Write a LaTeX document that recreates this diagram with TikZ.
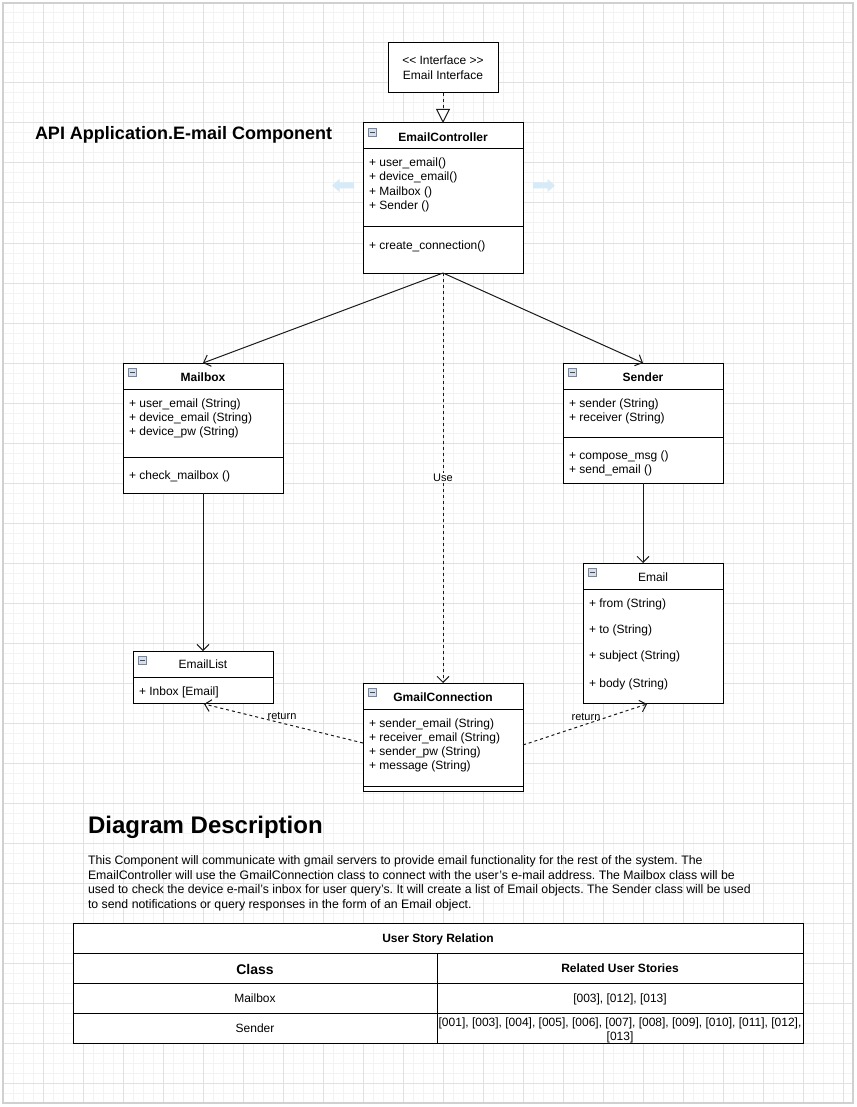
\documentclass[tikz,border=0pt]{standalone}
\usepackage{fontspec}
\setmainfont{Liberation Sans}
\usetikzlibrary{arrows.meta}
\definecolor{gridmin}{HTML}{F3F3F3}
\definecolor{gridmaj}{HTML}{E1E1E1}
\definecolor{pageb}{HTML}{D0D0D0}
\definecolor{hoverblue}{HTML}{D6EAF8}
\definecolor{iconfill}{HTML}{D8DEE8}
\definecolor{iconline}{HTML}{6F86A6}
\definecolor{linkc}{HTML}{1A1A1A}
\frenchspacing
\begin{document}
\begin{tikzpicture}[x=1pt,y=-1pt,
  every node/.style={inner sep=0pt,outer sep=0pt},
  box/.style={draw=black,line width=1pt,fill=white,anchor=north west},
  f12/.style={font=\fontsize{12}{14}\selectfont},
  f11/.style={font=\fontsize{11}{13}\selectfont},
  hdr/.style={font=\fontsize{12}{14}\selectfont\bfseries,anchor=base},
  hdrn/.style={f12,anchor=base},
  attr/.style={f12,anchor=base west},
  desc/.style={font=\fontsize{12.3}{14}\selectfont,anchor=base west},
  cell/.style={f12,anchor=base},
  sep/.style={draw=black,line width=1pt},
  icon/.style={draw=iconline,fill=iconfill,line width=0.6pt,minimum size=8pt,
    path picture={\draw[black!70,line width=0.9pt]
      ([xshift=1.8pt]path picture bounding box.west) -- ([xshift=-1.8pt]path picture bounding box.east);}},
  conn/.style={draw=linkc,line width=1pt,-{Straight Barb[length=6pt,width=12pt,line width=1pt]}},
  dconn/.style={conn,dash pattern=on 3pt off 3pt},
  realize/.style={draw=linkc,line width=1pt,dash pattern=on 3pt off 3pt,
    -{Triangle[open,fill=white,length=14pt,width=14pt,line width=1pt]}},
]
\useasboundingbox (0,0) rectangle (856,1107);
\fill[white] (0,0) rectangle (856,1107);
% grid
\begin{scope}
\clip (3,3) rectangle (853,1103);
\foreach \x in {13,23,...,853} \draw[gridmin,line width=1pt] (\x,3) -- (\x,1103);
\foreach \y in {13,23,...,1103} \draw[gridmin,line width=1pt] (3,\y) -- (853,\y);
\foreach \x in {3,43,...,853} \draw[gridmaj,line width=1pt] (\x,3) -- (\x,1103);
\foreach \y in {3,43,...,1103} \draw[gridmaj,line width=1pt] (3,\y) -- (853,\y);
\end{scope}
\draw[pageb,line width=1.2pt] (3,3) rectangle (853,1103);

% title
\node[font=\fontsize{18}{22}\selectfont\bfseries,anchor=base west] (title) at (35,139.5) {API Application.E-mail Component};

% hover arrows
\fill[hoverblue] (332,185.5) -- (339.5,179) -- (339.5,182.5) -- (354,182.5) -- (354,188.5) -- (339.5,188.5) -- (339.5,192) -- cycle;
\fill[hoverblue] (555,185.5) -- (547.5,179) -- (547.5,182.5) -- (533,182.5) -- (533,188.5) -- (547.5,188.5) -- (547.5,192) -- cycle;

% interface
\node[box,minimum width=110pt,minimum height=50pt] (ifc) at (388,43) {};
\node[hdrn] (ifc1) at (443,65) {{<}{<} Interface {>}{>}};
\node[hdrn] (ifc2) at (443,80) {Email Interface};

% EmailController
\node[box,minimum width=160pt,minimum height=150pt] (ec) at (363,123) {};
\node[icon] (eci) at (372.5,132.5) {};
\node[hdr] (ect) at (443,141.5) {EmailController};
\draw[sep] (363,149) -- (523,149);
\draw[sep] (363,227) -- (523,227);
\node[attr] (ec1) at (369,166.5) {+ user\_email()};
\node[attr] (ec2) at (369,180.8) {+ device\_email()};
\node[attr] (ec3) at (369,195.1) {+ Mailbox ()};
\node[attr] (ec4) at (369,209.4) {+ Sender ()};
\node[attr] (ec5) at (369,249.5) {+ create\_connection()};

% Mailbox
\node[box,minimum width=160pt,minimum height=130pt] (mb) at (123,363) {};
\node[icon] (mbi) at (132.5,372.5) {};
\node[hdr] (mbt) at (203,381.5) {Mailbox};
\draw[sep] (123,389) -- (283,389);
\draw[sep] (123,457) -- (283,457);
\node[attr] (mb1) at (129,407) {+ user\_email (String)};
\node[attr] (mb2) at (129,421) {+ device\_email (String)};
\node[attr] (mb3) at (129,435) {+ device\_pw (String)};
\node[attr] (mb4) at (129,479) {+ check\_mailbox ()};

% Sender
\node[box,minimum width=160pt,minimum height=120pt] (sd) at (563,363) {};
\node[icon] (sdi) at (572.5,372.5) {};
\node[hdr] (sdt) at (643,381.5) {Sender};
\draw[sep] (563,389) -- (723,389);
\draw[sep] (563,437) -- (723,437);
\node[attr] (sd1) at (569,407) {+ sender (String)};
\node[attr] (sd2) at (569,421) {+ receiver (String)};
\node[attr] (sd3) at (569,459) {+ compose\_msg ()};
\node[attr] (sd4) at (569,473) {+ send\_email ()};

% Email
\node[box,minimum width=140pt,minimum height=140pt] (em) at (583,563) {};
\node[icon] (emi) at (592.5,572.5) {};
\node[hdrn] (emt) at (653,581) {Email};
\draw[sep] (583,589) -- (723,589);
\node[attr] (em1) at (589,607) {+ from (String)};
\node[attr] (em2) at (589,633) {+ to (String)};
\node[attr] (em3) at (589,659) {+ subject (String)};
\node[attr] (em4) at (589,687) {+ body (String)};

% EmailList
\node[box,minimum width=140pt,minimum height=52pt] (el) at (133,651) {};
\node[icon] (eli) at (142.5,660.5) {};
\node[hdrn] (elt) at (203,668) {EmailList};
\draw[sep] (133,677) -- (273,677);
\node[attr] (el1) at (139,695) {+ Inbox [Email]};

% GmailConnection
\node[box,minimum width=160pt,minimum height=108pt] (gc) at (363,683) {};
\node[icon] (gci) at (372.5,692.5) {};
\node[hdr] (gct) at (443,701) {GmailConnection};
\draw[sep] (363,709) -- (523,709);
\draw[sep] (363,786.5) -- (523,786.5);
\node[attr] (gc1) at (369,727) {+ sender\_email (String)};
\node[attr] (gc2) at (369,741) {+ receiver\_email (String)};
\node[attr] (gc3) at (369,755) {+ sender\_pw (String)};
\node[attr] (gc4) at (369,769) {+ message (String)};

% connectors
\coordinate (emtop) at (643,563);
\coordinate (gcl) at (363,743);
\coordinate (gcr) at (523,745);
\coordinate (elb) at (204,704);
\coordinate (emb) at (647,704);
\draw[realize] (ifc.south) -- (ec.north);
\draw[conn] (ec.south) -- (mb.north);
\draw[conn] (ec.south) -- (sd.north);
\draw[dconn] (ec.south) -- node[f11,fill=white,inner sep=1pt] (use) {Use} (gc.north);
\draw[conn] (mb.south) -- (el.north);
\draw[conn] (sd.south) -- (emtop);
\draw[dconn] (gcl) -- (elb);
\draw[dconn] (gcr) -- (emb);
\node[f11] (ret1) at (282,716) {return};
\node[f11] (ret2) at (586,717) {return};

% description
\node[font=\fontsize{24}{28}\selectfont\bfseries,anchor=base west] (dtitle) at (88,833) {Diagram Description};
\node[desc] (d1) at (88,864.5) {This Component will communicate with gmail servers to provide email functionality for the rest of the system. The};
\node[desc] (d2) at (88,879) {EmailController will use the GmailConnection class to connect with the user's e-mail address. The Mailbox class will be};
\node[desc] (d3) at (88,893.5) {used to check the device e-mail's inbox for user query's. It will create a list of Email objects. The Sender class will be used};
\node[desc] (d4) at (88,908) {to send notifications or query responses in the form of an Email object.};

% table
\draw[sep,fill=white] (73,923) rectangle (803,1043);
\draw[sep] (73,953) -- (803,953);
\draw[sep] (73,983) -- (803,983);
\draw[sep] (73,1013) -- (803,1013);
\draw[sep] (437,953) -- (437,1043);
\node[cell,font=\fontsize{12}{14}\selectfont\bfseries] (tt) at (438,942.5) {User Story Relation};
\node[cell,font=\fontsize{14}{16}\selectfont\bfseries] (tc) at (255,974) {Class};
\node[cell,font=\fontsize{12}{14}\selectfont\bfseries] (tr) at (620,972.5) {Related User Stories};
\node[cell] (tm1) at (255,1002.5) {Mailbox};
\node[cell] (tm2) at (620,1002.5) {[003], [012], [013]};
\node[cell] (ts1) at (255,1032.5) {Sender};
\node[cell] (ts2) at (620,1026.5) {[001], [003], [004], [005], [006], [007], [008], [009], [010], [011], [012],};
\node[cell] (ts3) at (620,1040.5) {[013]};
\end{tikzpicture}
\end{document}
